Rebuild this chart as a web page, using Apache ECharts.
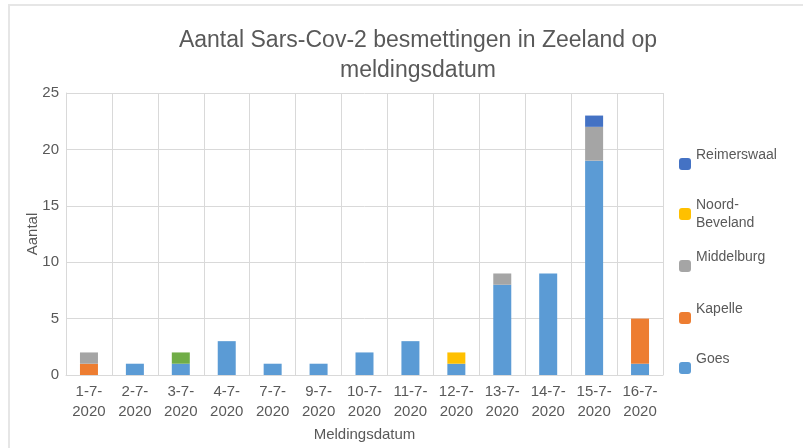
<!DOCTYPE html>
<html lang="nl">
<head>
  <meta charset="UTF-8">
  <title>Besmettingen Zeeland</title>
  <style>
    html, body { margin: 0; padding: 0; background: #fff; }
  </style>
</head>
<body>
  <div id="chart" style="width: 803px; height: 448px;"></div>

<script src="https://cdn.jsdelivr.net/npm/echarts@6/dist/echarts.min.js"></script>

<script>
  // meldingsdatum
  const dates = ['1-7-\n2020', '2-7-\n2020', '3-7-\n2020', '4-7-\n2020', '7-7-\n2020', '9-7-\n2020',
    '10-7-\n2020', '11-7-\n2020', '12-7-\n2020', '13-7-\n2020', '14-7-\n2020', '15-7-\n2020', '16-7-\n2020'];

  // aantal per gemeente
  const goes          = [0, 1, 1, 3, 1, 1, 2, 3, 1, 8, 9, 19, 1];
  const kapelle       = [1, 0, 0, 0, 0, 0, 0, 0, 0, 0, 0, 0, 4];
  const middelburg    = [1, 0, 0, 0, 0, 0, 0, 0, 0, 1, 0, 3, 0];
  const noordBeveland = [0, 0, 0, 0, 0, 0, 0, 0, 1, 0, 0, 0, 0];
  const reimerswaal   = [0, 0, 0, 0, 0, 0, 0, 0, 0, 0, 0, 1, 0];
  const overig        = [0, 0, 1, 0, 0, 0, 0, 0, 0, 0, 0, 0, 0];  // groen, niet in legenda

  const font = 'Liberation Sans';
  const grey = '#595959';
  const gridColor = '#d9d9d9';

  const myChart = echarts.init(document.getElementById('chart'));

  function bar(name, data, color) {
    return {
      name: name,
      type: 'bar',
      stack: 'totaal',
      barWidth: 18,
      data: data,
      itemStyle: { color: color },
      emphasis: { disabled: true }
    };
  }

  // one legend per item so the spacing can follow the original;
  // single-line names get an empty second line so the text sits above the swatch
  function legendItem(name, top) {
    return {
      data: [name],
      left: 679,
      top: top,
      orient: 'vertical',
      itemWidth: 12,
      itemHeight: 12,
      itemGap: 0,
      padding: 0,
      selectedMode: false,
      formatter: function (n) {
        return n.indexOf('\n') >= 0 ? n : n + '\n ';
      },
      textStyle: {
        fontFamily: font,
        fontSize: 14,
        color: grey,
        lineHeight: 18
      }
    };
  }

  const option = {
    backgroundColor: '#fff',
    animation: false,
    textStyle: { fontFamily: font },
    title: {
      text: 'Aantal Sars-Cov-2 besmettingen in Zeeland op\nmeldingsdatum',
      left: 413,
      top: 21,
      textAlign: 'center',
      textStyle: {
        fontFamily: font,
        fontSize: 23,
        fontWeight: 'normal',
        color: grey,
        lineHeight: 30
      }
    },
    graphic: [
      {
        type: 'rect',
        shape: { x: 9, y: 5, width: 800, height: 460 },
        style: { fill: 'none', stroke: '#e6e6e6', lineWidth: 2 },
        silent: true
      }
    ],
    legend: [
      legendItem('Reimerswaal', 146),
      legendItem('Noord-\nBeveland', 196),
      legendItem('Middelburg', 248),
      legendItem('Kapelle', 300),
      legendItem('Goes', 350)
    ],
    grid: {
      left: 66,
      right: 140,
      top: 93,
      bottom: 73
    },
    xAxis: {
      type: 'category',
      data: dates,
      name: 'Meldingsdatum',
      nameLocation: 'middle',
      nameGap: 44,
      nameTextStyle: { fontSize: 15, color: grey },
      axisLine: { lineStyle: { color: gridColor, width: 1 } },
      axisTick: { show: false },
      axisLabel: {
        interval: 0,
        fontSize: 15,
        color: grey,
        lineHeight: 20,
        margin: 7
      },
      splitLine: { show: true, interval: 0, lineStyle: { color: gridColor } }
    },
    yAxis: {
      type: 'value',
      min: 0,
      max: 25,
      interval: 5,
      name: 'Aantal',
      nameLocation: 'middle',
      nameGap: 26,
      nameMoveOverlap: false,
      nameTextStyle: { fontSize: 15, color: grey },
      axisLine: { show: true, lineStyle: { color: gridColor } },
      axisTick: { show: false },
      axisLabel: { fontSize: 15, color: grey, margin: 7 },
      splitLine: { lineStyle: { color: gridColor } }
    },
    series: [
      bar('Goes', goes, '#5b9bd5'),
      bar('Kapelle', kapelle, '#ed7d31'),
      bar('Middelburg', middelburg, '#a5a5a5'),
      bar('Noord-\nBeveland', noordBeveland, '#ffc000'),
      bar('Reimerswaal', reimerswaal, '#4472c4'),
      bar('Overig', overig, '#70ad47')
    ]
  };

  myChart.setOption(option);
</script>
</body>
</html>
